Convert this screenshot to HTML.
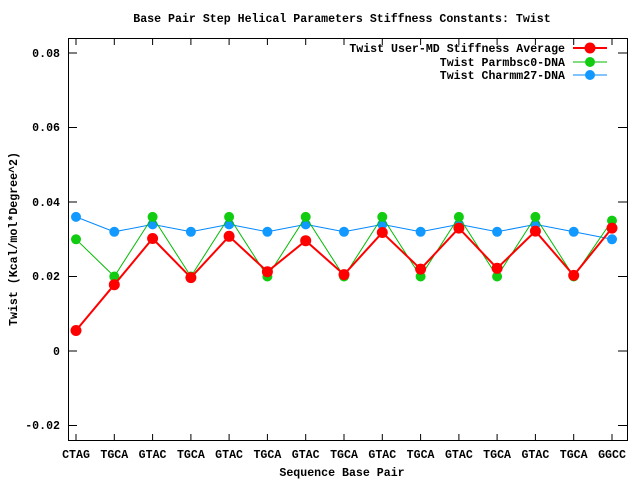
<!DOCTYPE html>
<html><head><style>body{margin:0;background:#fff}text{font-family:"Liberation Mono","DejaVu Sans Mono",monospace;font-size:11.6px;font-weight:bold}</style></head>
<body>
<svg width="640" height="480" xmlns="http://www.w3.org/2000/svg">
<rect width="640" height="480" fill="#fff"/>
<text x="342" y="22" text-anchor="middle">Base Pair Step Helical Parameters Stiffness Constants: Twist</text>
<g stroke="#000" stroke-width="1" fill="none">
<rect x="68.5" y="38.5" width="559" height="402"/>
<path d="M68 53h9M627 53h-9M68 127.5h9M627 127.5h-9M68 202h9M627 202h-9M68 276.5h9M627 276.5h-9M68 351h9M627 351h-9M68 425.5h9M627 425.5h-9"/>
<path d="M76 441v-7M76 38v7M114.3 441v-7M114.3 38v7M152.6 441v-7M152.6 38v7M190.9 441v-7M190.9 38v7M229.1 441v-7M229.1 38v7M267.4 441v-7M267.4 38v7M305.7 441v-7M305.7 38v7M344 441v-7M344 38v7M382.3 441v-7M382.3 38v7M420.6 441v-7M420.6 38v7M458.9 441v-7M458.9 38v7M497.1 441v-7M497.1 38v7M535.4 441v-7M535.4 38v7M573.7 441v-7M573.7 38v7M612 441v-7M612 38v7"/>
</g>
<g text-anchor="end">
<text x="60" y="57">0.08</text><text x="60" y="131">0.06</text><text x="60" y="206">0.04</text><text x="60" y="280">0.02</text><text x="60" y="355">0</text><text x="60" y="429">-0.02</text>
</g>
<g text-anchor="middle">
<text x="76" y="458">CTAG</text><text x="114.3" y="458">TGCA</text><text x="152.6" y="458">GTAC</text><text x="190.9" y="458">TGCA</text><text x="229.1" y="458">GTAC</text><text x="267.4" y="458">TGCA</text><text x="305.7" y="458">GTAC</text><text x="344" y="458">TGCA</text><text x="382.3" y="458">GTAC</text><text x="420.6" y="458">TGCA</text><text x="458.9" y="458">GTAC</text><text x="497.1" y="458">TGCA</text><text x="535.4" y="458">GTAC</text><text x="573.7" y="458">TGCA</text><text x="612" y="458">GGCC</text>
</g>
<text transform="translate(17,239) rotate(-90)" text-anchor="middle">Twist (Kcal/mol*Degree^2)</text>
<text x="342" y="476" text-anchor="middle">Sequence Base Pair</text>

<g fill="#19f">
<path d="M76 216.9L114.3 231.8L152.6 224.4L190.9 231.8L229.1 224.4L267.4 231.8L305.7 224.4L344 231.8L382.3 224.4L420.6 231.8L458.9 224.4L497.1 231.8L535.4 224.4L573.7 231.8L612 239.3" stroke="#08f" fill="none"/>
<circle cx="76" cy="216.9" r="5"/><circle cx="114.3" cy="231.8" r="5"/><circle cx="152.6" cy="224.4" r="5"/><circle cx="190.9" cy="231.8" r="5"/><circle cx="229.1" cy="224.4" r="5"/><circle cx="267.4" cy="231.8" r="5"/><circle cx="305.7" cy="224.4" r="5"/><circle cx="344" cy="231.8" r="5"/><circle cx="382.3" cy="224.4" r="5"/><circle cx="420.6" cy="231.8" r="5"/><circle cx="458.9" cy="224.4" r="5"/><circle cx="497.1" cy="231.8" r="5"/><circle cx="535.4" cy="224.4" r="5"/><circle cx="573.7" cy="231.8" r="5"/><circle cx="612" cy="239.3" r="5"/>
</g>
<g fill="#1c1">
<path d="M76 239.3L114.3 276.5L152.6 216.9L190.9 276.5L229.1 216.9L267.4 276.5L305.7 216.9L344 276.5L382.3 216.9L420.6 276.5L458.9 216.9L497.1 276.5L535.4 216.9L573.7 276.5L612 220.6" stroke="#0b0" fill="none"/>
<circle cx="76" cy="239.3" r="5"/><circle cx="114.3" cy="276.5" r="5"/><circle cx="152.6" cy="216.9" r="5"/><circle cx="190.9" cy="276.5" r="5"/><circle cx="229.1" cy="216.9" r="5"/><circle cx="267.4" cy="276.5" r="5"/><circle cx="305.7" cy="216.9" r="5"/><circle cx="344" cy="276.5" r="5"/><circle cx="382.3" cy="216.9" r="5"/><circle cx="420.6" cy="276.5" r="5"/><circle cx="458.9" cy="216.9" r="5"/><circle cx="497.1" cy="276.5" r="5"/><circle cx="535.4" cy="216.9" r="5"/><circle cx="573.7" cy="276.5" r="5"/><circle cx="612" cy="220.6" r="5"/>
</g>
<g fill="#f00">
<path d="M76 330.5L114.3 284.7L152.6 238.5L190.9 277.6L229.1 236.3L267.4 271.7L305.7 240.7L344 274.6L382.3 232.5L420.6 269.1L458.9 228.1L497.1 268.3L535.4 231.1L573.7 275.4L612 228.1" stroke="#f00" stroke-width="2" fill="none"/>
<circle cx="76" cy="330.5" r="5.5"/><circle cx="114.3" cy="284.7" r="5.5"/><circle cx="152.6" cy="238.5" r="5.5"/><circle cx="190.9" cy="277.6" r="5.5"/><circle cx="229.1" cy="236.3" r="5.5"/><circle cx="267.4" cy="271.7" r="5.5"/><circle cx="305.7" cy="240.7" r="5.5"/><circle cx="344" cy="274.6" r="5.5"/><circle cx="382.3" cy="232.5" r="5.5"/><circle cx="420.6" cy="269.1" r="5.5"/><circle cx="458.9" cy="228.1" r="5.5"/><circle cx="497.1" cy="268.3" r="5.5"/><circle cx="535.4" cy="231.1" r="5.5"/><circle cx="573.7" cy="275.4" r="5.5"/><circle cx="612" cy="228.1" r="5.5"/>
</g>

<g text-anchor="end">
<text x="565" y="52">Twist User-MD Stiffness Average</text>
<text x="565" y="66">Twist Parmbsc0-DNA</text>
<text x="565" y="79">Twist Charmm27-DNA</text>
</g>
<path d="M573 48h34" stroke="#f00" stroke-width="2"/><circle cx="590" cy="48" r="5.5" fill="#f00"/>
<path d="M573 62h34" stroke="#0b0" stroke-width="1"/><circle cx="590" cy="62" r="5" fill="#1c1"/>
<path d="M573 75h34" stroke="#08f" stroke-width="1"/><circle cx="590" cy="75" r="5" fill="#19f"/>
</svg>
</body></html>
